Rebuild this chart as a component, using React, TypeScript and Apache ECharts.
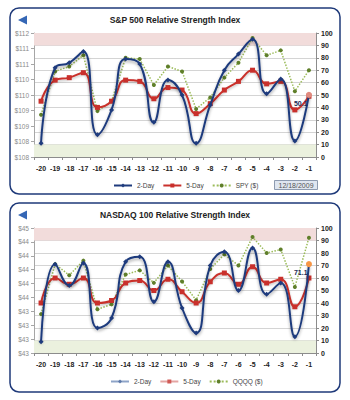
import React, { useEffect, useRef } from "react";
import * as echarts from "echarts";

const categories = ["-20", "-19", "-18", "-17", "-16", "-15", "-14", "-13", "-12", "-11", "-10", "-9", "-8", "-7", "-6", "-5", "-4", "-3", "-2", "-1"];

// S&P 500 panel
const spTwoDay = [11, 72, 76, 85, 18, 38, 79, 75, 28, 62, 50, 11, 42, 70, 83, 95, 51, 63, 13, 50.1];
const spFiveDay = [45, 62, 64, 68, 40, 45, 62, 61, 47, 56, 54, 35, 43, 54, 61, 70, 59, 61, 38, 49];
const spyPrice = [109.16, 110.56, 110.72, 111.08, 109.28, 109.6, 111.0, 110.96, 110.12, 110.72, 110.56, 109.35, 109.72, 110.36, 110.84, 111.64, 111.08, 111.24, 109.92, 110.6];
const spyTickLabels = ["$108", "$108", "$109", "$109", "$110", "$110", "$111", "$111", "$112"];
const spyAxisMin = 107.8;
const spyAxisStep = 0.5;

// NASDAQ 100 panel
const ndTwoDay = [9, 71, 54, 72, 20, 28, 73, 77, 41, 73, 36, 16, 70, 81, 50, 84, 47, 56, 13, 71.1];
const ndFiveDay = [40, 60, 55, 60, 40, 42, 56, 58, 50, 59, 49, 40, 57, 64, 55, 69, 56, 59, 37, 60];
const qqqqPrice = [43.36, 44.08, 43.92, 44.13, 43.43, 43.5, 43.93, 43.99, 43.81, 44.06, 43.83, 43.56, 44.01, 44.22, 44.06, 44.47, 44.24, 44.29, 43.75, 44.46];
const qqqqTickLabels = ["$43", "$43", "$43", "$43", "$44", "$44", "$44", "$44", "$44", "$45"];
const qqqqAxisMin = 42.8;
const qqqqAxisStep = 0.2;

const rsiTicks = [0, 10, 20, 30, 40, 50, 60, 70, 80, 90, 100];
const dateStamp = "12/18/2009";

const NAVY = "#1f3b7d";
const RED = "#c9302c";
const GREEN = "#9bbb59";
const GREEN_DARK = "#5f7f2a";
const FONT = "Liberation Sans";

function buildPanel(idx: number, twoDay: number[], fiveDay: number[], price: number[], pMin: number, pStep: number, tickLabels: string[], priceName: string, highlight: string) {
  const nIntervals = tickLabels.length - 1;
  const xAxis = {
    gridIndex: idx,
    type: "category",
    data: categories,
    boundaryGap: true,
    axisLine: { show: true, lineStyle: { color: "#8c8c8c", width: 1 } },
    axisTick: { show: true, length: 3, lineStyle: { color: "#8c8c8c" } },
    axisLabel: { fontSize: 7, color: "#222", fontWeight: "bold", margin: 8, fontFamily: FONT, interval: 0 },
  };
  const yLeft = {
    gridIndex: idx,
    type: "value",
    position: "left",
    min: 0,
    max: nIntervals,
    interval: 1,
    axisLine: { show: true, lineStyle: { color: "#a6a6a6" } },
    axisTick: { show: true, length: 3, lineStyle: { color: "#a6a6a6" } },
    axisLabel: { fontSize: 6.5, color: "#8a8a8a", margin: 5, fontFamily: FONT, formatter: (v: number) => tickLabels[Math.round(v)] ?? "" },
    splitLine: { show: false },
  };
  const yRight = {
    gridIndex: idx,
    type: "value",
    position: "right",
    min: rsiTicks[0],
    max: rsiTicks[rsiTicks.length - 1],
    interval: 10,
    axisLine: { show: true, lineStyle: { color: "#8c8c8c" } },
    axisTick: { show: true, length: 3, lineStyle: { color: "#8c8c8c" } },
    axisLabel: { fontSize: 7, color: "#222", fontWeight: "bold", margin: 5, fontFamily: FONT },
    splitLine: { show: true, lineStyle: { color: "#d4d4d4", width: 1 } },
  };
  const yL = idx * 2;
  const yR = idx * 2 + 1;
  const priceSeries = {
    name: priceName,
    type: "line",
    xAxisIndex: idx,
    yAxisIndex: yL,
    data: price.map((p) => (p - pMin) / pStep),
    symbol: "circle",
    symbolSize: 4,
    lineStyle: { color: GREEN, width: 1.5, type: "dotted" },
    itemStyle: { color: GREEN_DARK },
    z: 3,
  };
  const fiveSeries = {
    name: "5-Day",
    type: "line",
    xAxisIndex: idx,
    yAxisIndex: yR,
    data: fiveDay,
    smooth: 0.5,
    symbol: "rect",
    symbolSize: 5,
    lineStyle: { color: RED, width: 2, shadowColor: "rgba(0,0,0,0.25)", shadowBlur: 2, shadowOffsetY: 1.5 },
    itemStyle: { color: RED },
    z: 4,
    markArea: {
      silent: true,
      z: 1,
      data: [
        [{ yAxis: 90, itemStyle: { color: "#f2dcdb" } }, { yAxis: 100 }],
        [{ yAxis: 0, itemStyle: { color: "#ebf1de" } }, { yAxis: 10 }],
      ],
    },
  };
  const lastIdx = twoDay.length - 1;
  const twoSeries = {
    name: "2-Day",
    type: "line",
    xAxisIndex: idx,
    yAxisIndex: yR,
    data: twoDay.map((v, i) =>
      i === lastIdx
        ? {
            value: v,
            symbol: "circle",
            symbolSize: 6,
            itemStyle: { color: highlight },
            label: { show: true, position: [-12, 8], fontSize: 7, color: "#1a2a55", fontWeight: "bold", fontFamily: FONT, formatter: (p: any) => String(p.value) },
          }
        : v
    ),
    smooth: 0.5,
    symbol: "diamond",
    symbolSize: 5,
    lineStyle: { color: NAVY, width: 2, shadowColor: "rgba(0,0,0,0.35)", shadowBlur: 3, shadowOffsetY: 2 },
    itemStyle: { color: NAVY },
    z: 5,
  };
  return { xAxis, yAxes: [yLeft, yRight], series: [priceSeries, fiveSeries, twoSeries] };
}

export default function App() {
  const ref = useRef<HTMLDivElement>(null);
  useEffect(() => {
    if (!ref.current) return;
    const chart = echarts.init(ref.current, undefined, { renderer: "svg" });
    const top = buildPanel(0, spTwoDay, spFiveDay, spyPrice, spyAxisMin, spyAxisStep, spyTickLabels, "SPY ($)", "#e08a7e");
    const bot = buildPanel(1, ndTwoDay, ndFiveDay, qqqqPrice, qqqqAxisMin, qqqqAxisStep, qqqqTickLabels, "QQQQ ($)", "#f79646");
    const legendText = { fontSize: 6.5, color: "#444", fontFamily: FONT };
    const legendCommon = { padding: 0, itemWidth: 18, itemHeight: 5, itemGap: 8, textStyle: legendText };
    const option: any = {
      animation: false,
      backgroundColor: "#ffffff",
      title: [
        { text: "S&P 500 Relative Strength Index", left: "center", top: 15, padding: 0, textStyle: { fontSize: 8.5, fontWeight: "bold", color: "#222", fontFamily: FONT } },
        { text: "NASDAQ 100 Relative Strength Index", left: "center", top: 210, padding: 0, textStyle: { fontSize: 8.5, fontWeight: "bold", color: "#222", fontFamily: FONT } },
      ],
      grid: [
        { left: 34, right: 34, top: 33, height: 124 },
        { left: 34, right: 34, top: 228, height: 125 },
      ],
      xAxis: [top.xAxis, bot.xAxis],
      yAxis: [...top.yAxes, ...bot.yAxes],
      legend: [
        { data: ["2-Day", "5-Day", "SPY ($)"], left: 113, top: 182, ...legendCommon },
        {
          data: [
            { name: "2-Day", lineStyle: { color: "#8ea4c8" }, itemStyle: { color: "#5d78a8" } },
            { name: "5-Day", lineStyle: { color: "#e4a5a3" }, itemStyle: { color: "#d05a56" } },
            { name: "QQQQ ($)" },
          ],
          left: 110,
          top: 378,
          ...legendCommon,
        },
      ],
      series: [...top.series, ...bot.series],
      graphic: [
        { type: "rect", shape: { x: 10, y: 8, width: 330, height: 186, r: 9 }, style: { fill: "none", stroke: "#1f3a7a", lineWidth: 1.5 }, z: 10, silent: true },
        { type: "rect", shape: { x: 10, y: 203, width: 330, height: 189, r: 9 }, style: { fill: "none", stroke: "#1f3a7a", lineWidth: 1.5 }, z: 10, silent: true },
        { type: "polygon", shape: { points: [[18, 20], [27, 15.5], [27, 24.5]] }, style: { fill: "#3567b5" }, z: 10 },
        { type: "polygon", shape: { points: [[18, 215], [27, 210.5], [27, 219.5]] }, style: { fill: "#3567b5" }, z: 10 },
        {
          type: "group",
          left: 274,
          top: 180,
          z: 10,
          children: [
            { type: "rect", shape: { x: 0, y: 0, width: 43, height: 9 }, style: { fill: "#dfe6f0", stroke: "#8d9bb0", lineWidth: 1 } },
            { type: "text", x: 21.5, y: 4.8, style: { text: dateStamp, fill: "#555", fontSize: 7, fontFamily: FONT, align: "center", verticalAlign: "middle" } },
          ],
        },
      ],
    };
    chart.setOption(option);
    return () => chart.dispose();
  }, []);
  return <div ref={ref} style={{ position: "fixed", left: 0, top: 0, width: 350, height: 400 }} />;
}
